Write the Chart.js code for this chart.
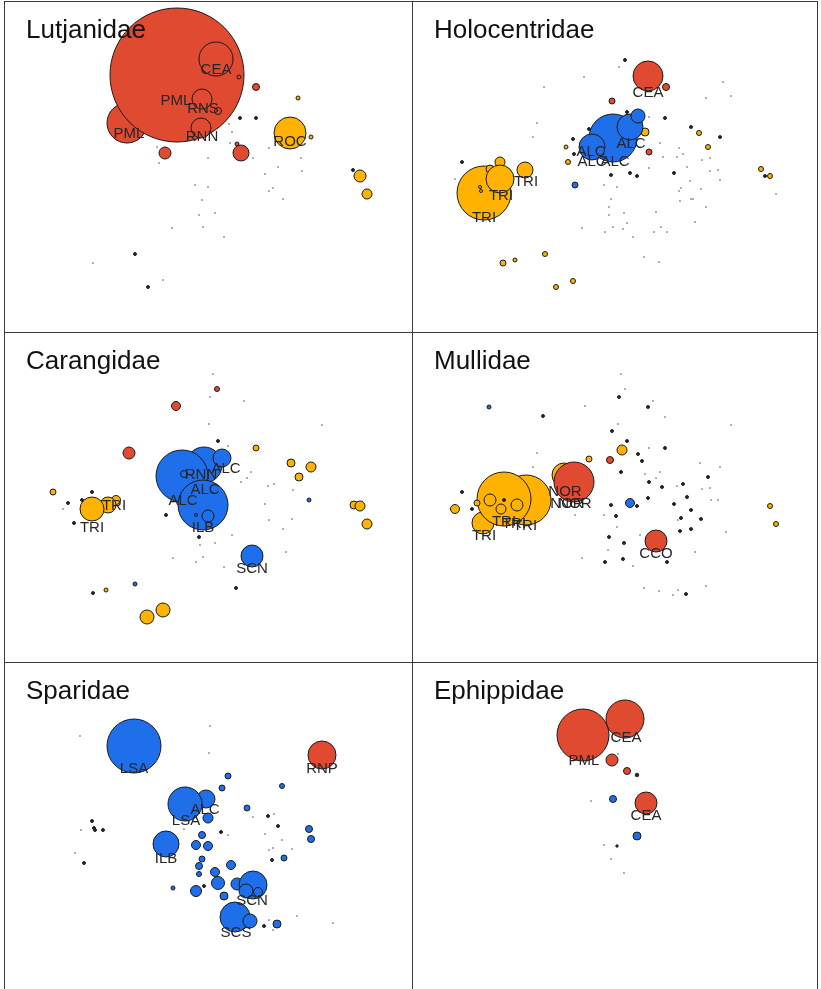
<!DOCTYPE html>
<html>
<head>
<meta charset="utf-8">
<title>Families</title>
<script src="https://cdn.jsdelivr.net/npm/chart.js@4.4.1/dist/chart.umd.min.js"></script>
<style>
  body { margin: 0; background: #fff; }
  #sheet { position: relative; width: 821px; height: 989px; overflow: hidden; }
  #sheet canvas { position: absolute; }
  .rule { position: absolute; background: #3a3a3a; }
</style>
</head>
<body>
<div id="sheet">
  <canvas id="lutjanidae" width="408" height="331" style="left:4px;top:1px"></canvas>
  <canvas id="holocentridae" width="406" height="331" style="left:412px;top:1px"></canvas>
  <canvas id="carangidae" width="408" height="330" style="left:4px;top:332px"></canvas>
  <canvas id="mullidae" width="406" height="330" style="left:412px;top:332px"></canvas>
  <canvas id="sparidae" width="408" height="327" style="left:4px;top:662px"></canvas>
  <canvas id="ephippidae" width="406" height="327" style="left:412px;top:662px"></canvas>

  <div class="rule" style="left:4px;top:1px;width:1px;height:988px"></div>
  <div class="rule" style="left:412px;top:1px;width:1px;height:988px"></div>
  <div class="rule" style="left:817px;top:1px;width:1px;height:988px"></div>
  <div class="rule" style="left:4px;top:1px;width:814px;height:1px"></div>
  <div class="rule" style="left:4px;top:332px;width:814px;height:1px"></div>
  <div class="rule" style="left:4px;top:662px;width:814px;height:1px"></div>
</div>
<script>
'use strict';

// [x, y, size, group]  group: R / Y / B
const lutjanidaeTaxa = [
  [123,122,20,'R'],[173,74,67,'R'],[212,58,17,'R'],[235,76,2,'R'],[198,98,10,'R'],
  [214,110,3.5,'R'],[197,127,10,'R'],[252,86,3.5,'R'],[161,152,6,'R'],[237,152,8,'R'],
  [233,143,2,'R'],[286,132,16,'Y'],[294,97,2,'Y'],[307,136,2,'Y'],[356,175,6,'Y'],[363,193,5,'Y']
];
// [x, y, size] for taxa with very low scores
const lutjanidaeDots = [
  [236,117,1.5],[252,117,1.5],[349,169,1.5],[131,253,1.5],[144,286,1.5],
  [239,70,0.6],[153,146,0.6],[155,162,0.6],[204,157,0.6],[225,123,0.6],[228,131,0.6],
  [226,142,0.6],[249,157,0.6],[265,147,0.6],[297,157,0.6],[274,166,0.6],[261,173,0.6],
  [298,170,0.6],[191,184,0.6],[204,186,0.6],[198,199,0.6],[269,187,0.6],[265,190,0.6],
  [279,198,0.6],[195,214,0.6],[211,212,0.6],[168,227,0.6],[199,226,0.6],[220,236,0.6],
  [89,262,0.6],[159,279,0.6]
];
const lutjanidaeLabels = [
  ['CEA',212,69],['PML',172,100],['RNS',199,108],['RNN',198,136],['PML',125,133],['ROC',286,141]
];

const holocentridaeTaxa = [
  [72,192,27,'Y'],[88,161,5,'Y'],[78,168,4,'Y'],[88,178,14,'Y'],[113,169,8,'Y'],
  [68,186,1.5,'Y'],[69,190,1.5,'Y'],
  [236,75,15,'R'],[254,86,3.5,'R'],[200,100,3,'R'],[233,131,4,'Y'],
  [201,137,24,'B'],[180,146,13,'B'],[218,126,13,'B'],[226,115,7,'B'],[237,151,3,'R'],
  [154,146,2,'Y'],[156,161,2.5,'Y'],[163,184,3,'B'],
  [287,132,2.5,'Y'],[296,146,2.5,'Y'],[349,168,2.5,'Y'],[358,175,2.5,'Y'],[133,253,2.5,'Y'],
  [91,262,3,'Y'],[103,259,2,'Y'],[161,280,2.5,'Y'],[144,286,2.5,'Y']
];
const holocentridaeDots = [
  [50,161,1.5],[161,138,1.5],[177,128,1.5],[215,111,1.5],[199,174,1.5],[218,172,1.5],
  [225,175,1.5],[308,136,1.5],[162,153,1.5],[279,126,1.5],[262,172,1.5],[253,117,1.5],
  [213,59,1.5],[353,175,1.5],
  [207,66,0.6],[172,76,0.6],[132,86,0.6],[241,70,0.6],[311,81,0.6],[319,95,0.6],[294,97,0.6],
  [125,122,0.6],[121,136,0.6],[237,116,0.6],[248,142,0.6],[267,147,0.6],[251,156,0.6],
  [265,156,0.6],[271,153,0.6],[290,159,0.6],[298,157,0.6],[275,166,0.6],[237,167,0.6],
  [298,170,0.6],[306,169,0.6],[278,180,0.6],[308,179,0.6],[192,184,0.6],[205,186,0.6],
  [267,190,0.6],[269,187,0.6],[289,188,0.6],[199,198,0.6],[279,198,0.6],[281,198,0.6],
  [268,200,0.6],[294,206,0.6],[197,206,0.6],[212,212,0.6],[197,214,0.6],[244,211,0.6],
  [215,222,0.6],[283,221,0.6],[201,226,0.6],[211,228,0.6],[193,231,0.6],[221,236,0.6],
  [170,227,0.6],[242,231,0.6],[249,226,0.6],[255,231,0.6],[232,256,0.6],[247,261,0.6],
  [364,193,0.6],[43,178,0.6]
];
const holocentridaeLabels = [
  ['CEA',236,92],['ALC',219,143],['ALC',179,151],['ALC',180,161],['ALC',203,161],
  ['TRI',114,181],['TRI',89,195],['TRI',72,217]
];

const carangidaeTaxa = [
  [213,57,2.5,'R'],[172,74,4.5,'R'],[125,121,6,'R'],
  [200,133,18,'B'],[178,144,26,'B'],[199,173,25,'B'],[218,126,9,'B'],[204,184,6,'B'],
  [180,142,3.5,'B'],[192,183,1.5,'B'],[248,224,11,'B'],[305,168,2,'B'],[131,252,2,'B'],
  [112,168,4.5,'Y'],[104,173,8,'Y'],[88,177,12,'Y'],
  [49,160,3,'Y'],[252,116,3,'Y'],[287,131,4,'Y'],[307,135,5,'Y'],[295,145,4,'Y'],
  [350,173,4,'Y'],[356,174,5,'Y'],[363,192,5,'Y'],[143,285,7,'Y'],[159,278,7,'Y'],[102,258,2,'Y']
];
const carangidaeDots = [
  [88,160,1.5],[64,171,1.5],[70,191,1.5],[214,109,1.5],[195,205,1.5],[232,256,1.5],
  [89,261,1.5],[162,183,1.5],[78,168,1.5],
  [209,42,0.6],[206,65,0.6],[240,69,0.6],[205,92,0.6],[318,93,0.6],[224,114,0.6],
  [243,146,0.6],[247,140,0.6],[237,150,0.6],[264,154,0.6],[270,152,0.6],[261,172,0.6],
  [289,158,0.6],[265,188,0.6],[288,187,0.6],[279,197,0.6],[282,220,0.6],[228,203,0.6],
  [211,211,0.6],[196,213,0.6],[199,225,0.6],[192,230,0.6],[169,226,0.6],[220,235,0.6],[59,177,0.6]
];
const carangidaeLabels = [
  ['RNN',197,143],['ALC',222,137],['ALC',201,158],['ALC',179,169],['ILB',199,196],
  ['SCN',248,237],['TRI',110,174],['TRI',88,196]
];

const mullidaeTaxa = [
  [152,143,12,'Y'],[162,150,20,'R'],[71,191,11,'Y'],[114,168,25,'Y'],[92,167,27,'Y'],
  [78,168,6,'Y'],[89,177,5,'Y'],[105,173,6,'Y'],[65,171,3,'Y'],
  [43,177,4.5,'Y'],[210,118,5,'Y'],[177,127,3,'Y'],[198,128,3.5,'R'],[218,171,4.5,'B'],
  [77,75,2,'B'],[244,209,11,'R'],[358,174,2.5,'Y'],[364,192,2.5,'Y']
];
const mullidaeDots = [
  [131,84,1.5],[200,99,1.5],[207,65,1.5],[236,75,1.5],[226,122,1.5],[230,129,1.5],
  [209,140,1.5],[253,116,1.5],[237,150,1.5],[250,155,1.5],[262,172,1.5],[236,166,1.5],
  [225,174,1.5],[199,173,1.5],[204,184,1.5],[279,178,1.5],[269,186,1.5],[289,187,1.5],
  [296,145,1.5],[275,165,1.5],[271,152,1.5],[197,205,1.5],[212,211,1.5],[193,230,1.5],
  [211,227,1.5],[255,230,1.5],[274,262,1.5],[50,160,1.5],[60,177,1.5],[92,168,1.5],
  [215,109,1.5],[279,197,1.5],[268,199,1.5],
  [209,42,0.6],[213,57,0.6],[173,74,0.6],[241,69,0.6],[253,85,0.6],[319,93,0.6],[206,92,0.6],
  [237,116,0.6],[125,121,0.6],[121,135,0.6],[288,131,0.6],[308,135,0.6],[248,140,0.6],
  [233,142,0.6],[244,146,0.6],[265,154,0.6],[290,157,0.6],[298,156,0.6],[299,168,0.6],
  [306,168,0.6],[192,183,0.6],[163,183,0.6],[266,188,0.6],[314,200,0.6],[228,203,0.6],
  [196,218,0.6],[170,226,0.6],[221,234,0.6],[283,220,0.6],[232,256,0.6],[247,259,0.6],
  [266,258,0.6],[261,263,0.6],[294,254,0.6],[205,195,0.6]
];
const mullidaeLabels = [
  ['NOR',153,160],['NOR',155,172],['NOR',163,172],['TRI',92,190],['TRI',102,192],
  ['TRI',113,194],['TRI',72,204],['CCO',244,222]
];

const sparidaeTaxa = [
  [130,84,27,'B'],[318,93,14,'R'],[202,137,9,'B'],[181,142,17,'B'],[204,156,5,'B'],
  [162,182,13,'B'],[233,222,6,'B'],[249,223,14,'B'],[242,229,7,'B'],[254,230,4.5,'B'],
  [231,255,15,'B'],[246,259,7,'B'],
  [224,114,3,'B'],[218,126,3,'B'],[278,124,2.5,'B'],[243,146,3,'B'],[198,173,3.5,'B'],
  [192,183,4.5,'B'],[204,184,4.5,'B'],[198,197,3,'B'],[195,204,3.5,'B'],[195,212,2.5,'B'],
  [211,210,4.5,'B'],[214,221,6.5,'B'],[227,203,4.5,'B'],[192,229,5.5,'B'],[220,234,4,'B'],
  [305,167,3.5,'B'],[307,177,3.5,'B'],[280,196,3,'B'],[273,262,4,'B'],[169,226,2,'B']
];
const sparidaeDots = [
  [88,159,1.5],[91,168,1.5],[99,168,1.5],[80,201,1.5],[217,170,1.5],[264,154,1.5],
  [274,164,1.5],[268,198,1.5],[260,264,1.5],[200,224,1.5],[90,166,1.5],
  [76,74,0.6],[206,64,0.6],[205,91,0.6],[77,168,0.6],[71,191,0.6],[270,152,0.6],
  [249,155,0.6],[224,173,0.6],[261,172,0.6],[278,178,0.6],[265,188,0.6],[269,186,0.6],
  [288,187,0.6],[293,254,0.6],[329,261,0.6],[265,258,0.6],[269,268,0.6],[180,167,0.6]
];
const sparidaeLabels = [
  ['LSA',130,107],['RNP',318,107],['ALC',201,148],['LSA',182,159],['ILB',162,197],
  ['SCN',248,239],['SCS',232,271]
];

const ephippidaeTaxa = [
  [171,73,26,'R'],[213,57,19,'R'],[200,98,6,'R'],[215,109,3.5,'R'],[201,137,3.5,'B'],
  [234,141,11,'R'],[225,174,4,'B']
];
const ephippidaeDots = [
  [225,113,1.8],[205,184,1.2],
  [179,139,0.6],[192,183,0.6],[199,197,0.6],[212,211,0.6],[206,92,0.6]
];
const ephippidaeLabels = [
  ['CEA',214,76],['PML',172,99],['CEA',234,154]
];

const FILLS = { R: '#e04a31', Y: '#ffb300', B: '#1f6eea' };

function makePanel(id, title, taxa, dots, labels) {
  const canvas = document.getElementById(id);

  const textLayer = {
    id: 'textLayer',
    afterDatasetsDraw(chart) {
      const ctx = chart.ctx;
      const sx = chart.scales.x, sy = chart.scales.y;
      ctx.save();
      ctx.fillStyle = '#262626';
      ctx.font = '15px "Liberation Sans", Arial, sans-serif';
      ctx.textAlign = 'center';
      ctx.textBaseline = 'middle';
      labels.forEach(function(l) {
        ctx.fillText(l[0], sx.getPixelForValue(l[1]), sy.getPixelForValue(l[2]));
      });
      ctx.fillStyle = '#111';
      ctx.font = '26px "Liberation Sans", Arial, sans-serif';
      ctx.textAlign = 'left';
      ctx.textBaseline = 'alphabetic';
      ctx.fillText(title, 22, 37);
      ctx.restore();
    }
  };

  new Chart(canvas, {
    type: 'bubble',
    data: {
      datasets: [
        {
          order: 0,
          clip: false,
          data: dots.map(d => ({ x: d[0], y: d[1], r: d[2] })),
          backgroundColor: c => (c.raw && c.raw.r < 1) ? '#6a6a6a' : '#222',
          borderColor: c => (c.raw && c.raw.r < 1) ? '#6a6a6a' : '#222',
          borderWidth: c => (c.raw && c.raw.r < 1) ? 0.5 : 1
        },
        {
          order: 1,
          clip: false,
          data: taxa.map(d => ({ x: d[0], y: d[1], r: d[2], g: d[3] })),
          backgroundColor: c => c.raw ? FILLS[c.raw.g] : '#000',
          borderColor: '#1a1a1a',
          borderWidth: 1
        }
      ]
    },
    options: {
      responsive: false,
      animation: false,
      events: [],
      layout: { padding: 0, autoPadding: false },
      plugins: { legend: { display: false }, tooltip: { enabled: false } },
      scales: {
        x: { display: false, min: 0, max: canvas.width },
        y: { display: false, min: 0, max: canvas.height, reverse: true }
      }
    },
    plugins: [textLayer]
  });
}

makePanel('lutjanidae', 'Lutjanidae', lutjanidaeTaxa, lutjanidaeDots, lutjanidaeLabels);
makePanel('holocentridae', 'Holocentridae', holocentridaeTaxa, holocentridaeDots, holocentridaeLabels);
makePanel('carangidae', 'Carangidae', carangidaeTaxa, carangidaeDots, carangidaeLabels);
makePanel('mullidae', 'Mullidae', mullidaeTaxa, mullidaeDots, mullidaeLabels);
makePanel('sparidae', 'Sparidae', sparidaeTaxa, sparidaeDots, sparidaeLabels);
makePanel('ephippidae', 'Ephippidae', ephippidaeTaxa, ephippidaeDots, ephippidaeLabels);
</script>
</body>
</html>
